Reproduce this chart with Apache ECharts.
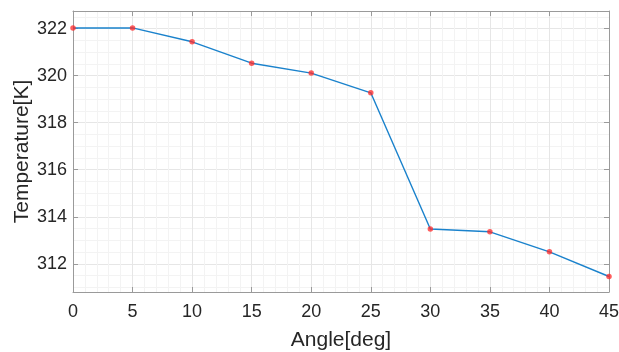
<!DOCTYPE html>
<html>
<head>
<meta charset="UTF-8">
<title>Temperature vs Angle</title>
<script src="https://cdn.jsdelivr.net/npm/echarts@6/dist/echarts.min.js"></script>
<style>
  html, body { margin: 0; padding: 0; background: #fff; }
  #container { width: 619px; height: 352px; }
</style>
</head>
<body>
<div id="container"></div>
<script>
// chart data
var angles = [0, 5, 10, 15, 20, 25, 30, 35, 40, 45];
var temps = [322.03, 322.03, 321.44, 320.53, 320.11, 319.27, 313.48, 313.36, 312.51, 311.46];
var xName = 'Angle[deg]';
var yName = 'Temperature[K]';

var myChart = echarts.init(document.getElementById('container'));

var FONT = 'Liberation Sans, Arial, Helvetica, sans-serif';
var TXT = '#262626';
var AX = '#9a9a9a';

function xAxisCfg(top) {
  return {
    type: 'value',
    position: top ? 'top' : 'bottom',
    min: 0, max: 45, interval: 5,
    name: top ? '' : xName,
    nameLocation: 'middle',
    nameGap: 38,
    nameMoveOverlap: false,
    nameTextStyle: { color: TXT, fontSize: 21, fontFamily: FONT },
    axisLine: { show: true, onZero: false, lineStyle: { color: AX, width: 1 } },
    axisTick: { show: true, inside: true, length: 5, lineStyle: { color: AX } },
    minorTick: { show: false, splitNumber: 5 },
    axisLabel: { show: !top, color: TXT, fontSize: 18, fontFamily: FONT, margin: 11 },
    splitLine: { show: !top, lineStyle: { color: '#e6e6e6', width: 1 } },
    minorSplitLine: { show: !top, lineStyle: { color: '#f3f3f3', width: 1 } }
  };
}

function yAxisCfg(right) {
  return {
    type: 'value',
    position: right ? 'right' : 'left',
    min: 310.8, max: 322.75, splitNumber: 6,
    name: right ? '' : yName,
    nameLocation: 'middle',
    nameGap: 40,
    nameMoveOverlap: false,
    nameTextStyle: { color: TXT, fontSize: 21, fontFamily: FONT },
    axisLine: { show: true, onZero: false, lineStyle: { color: AX, width: 1 } },
    axisTick: { show: true, inside: true, length: 5, lineStyle: { color: AX } },
    minorTick: { show: false, splitNumber: 4 },
    axisLabel: { show: !right, color: TXT, fontSize: 18, fontFamily: FONT, margin: 6,
      showMinLabel: false, showMaxLabel: false },
    splitLine: { show: !right, lineStyle: { color: '#e6e6e6', width: 1 } },
    minorSplitLine: { show: !right, lineStyle: { color: '#f3f3f3', width: 1 } }
  };
}

var option = {
  animation: false,
  backgroundColor: '#ffffff',
  grid: { left: 73, right: 10, top: 11, bottom: 60, outerBoundsMode: 'none', containLabel: false },
  xAxis: [xAxisCfg(false), xAxisCfg(true)],
  yAxis: [yAxisCfg(false), yAxisCfg(true)],
  series: [{
    type: 'line',
    xAxisIndex: 0,
    yAxisIndex: 0,
    data: angles.map(function (a, i) { return [a, temps[i]]; }),
    symbol: 'circle',
    symbolSize: 5.5,
    lineStyle: { color: '#1a82cc', width: 1.4 },
    itemStyle: { color: 'rgba(255,40,40,0.75)', borderWidth: 0 },
    clip: false
  }]
};

myChart.setOption(option);
</script>
</body>
</html>
